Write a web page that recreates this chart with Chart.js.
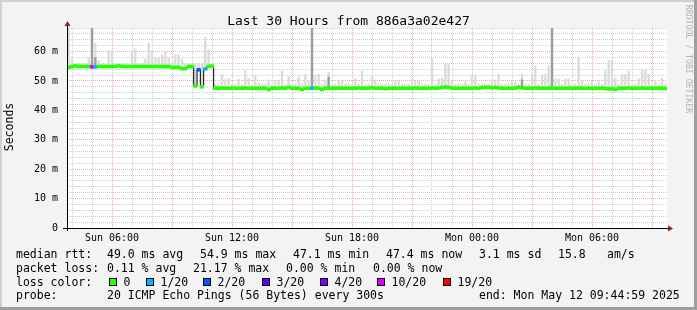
<!DOCTYPE html>
<html>
<head>
<meta charset="utf-8">
<script src="https://cdn.jsdelivr.net/npm/chart.js@4.4.1/dist/chart.umd.min.js"></script>
<style>
  html, body { margin: 0; padding: 0; background: #f3f3f3; }
</style>
</head>
<body>
<canvas id="chart" width="697" height="310"></canvas>
<script>
// Data (10 minute bins, Sun 03:45 -> Mon 09:45)
const days = ['Sun', 'Mon'];
const startMinute = 3 * 60 + 45;
const spanMinutes = 30 * 60;
const binMinutes = 10;

const median = [
  54.6, 54.9, 55.1, 54.9, 54.9, 54.9, 54.9, 54.8, 54.8, 54.9,
  54.9, 54.9, 54.9, 54.9, 54.9, 55.1, 54.9, 54.9, 54.9, 54.9,
  54.9, 54.9, 54.9, 54.9, 54.9, 54.9, 54.9, 54.9, 54.9, 54.9,
  54.9, 54.6, 54.6, 54.6, 54.2, 54.2, 54.9, 54.9, 48.3, 53.8,
  48.0, 54.1, 55.0, 55.0, 47.5, 47.5, 47.6, 47.5, 47.5, 47.6,
  47.5, 47.5, 47.5, 47.6, 47.5, 47.5, 47.5, 47.5, 47.5, 47.5,
  47.1, 47.5, 47.5, 47.5, 47.6, 47.5, 47.8, 47.5, 47.5, 47.5,
  47.1, 47.5, 47.5, 47.5, 47.6, 47.5, 47.1, 47.5, 47.6, 47.5,
  47.5, 47.6, 47.5, 47.5, 47.5, 47.5, 47.5, 47.6, 47.5, 47.5,
  47.6, 47.7, 47.5, 47.5, 47.5, 47.4, 47.5, 47.5, 47.5, 47.5,
  47.5, 47.5, 47.5, 47.5, 47.6, 47.5, 47.5, 47.5, 47.5, 47.6,
  47.5, 47.6, 47.8, 47.9, 47.8, 47.6, 47.5, 47.5, 47.5, 47.5,
  47.5, 47.5, 47.6, 47.5, 47.7, 47.8, 47.8, 47.7, 47.8, 47.6,
  47.5, 47.5, 47.5, 47.5, 47.6, 47.8, 47.7, 47.5, 47.5, 47.5,
  47.6, 47.5, 47.5, 47.5, 47.5, 47.6, 47.5, 47.5, 47.5, 47.5,
  47.5, 47.5, 47.5, 47.6, 47.5, 47.5, 47.5, 47.5, 47.5, 47.5,
  47.5, 47.4, 47.3, 47.3, 47.1, 47.5, 47.5, 47.5, 47.6, 47.5,
  47.5, 47.5, 47.6, 47.5, 47.5, 47.5, 47.5, 47.5, 47.5, 47.4
];

// highest ping of each bin (light smoke)
const smokeHigh = [
  68, 58, 56, 56, 56, 56, 58, 68, 63, 57,
  56, 56, 60.5, 60.5, 56, 56, 56, 56, 56, 60,
  61, 56, 56, 57.5, 63, 60.5, 58, 58, 59, 60,
  58, 56, 59, 59, 57.5, 56, 56, 56, 56, 56,
  56, 65, 60.7, 56, 49, 49, 52.4, 50.5, 50.9, 49,
  49, 50.7, 49, 53.5, 51, 49, 51.8, 49.5, 49, 49,
  50.5, 49, 50.2, 50.2, 53.5, 49, 51.5, 49, 49, 51.5,
  49, 52.4, 50, 68, 52, 52.4, 49, 50.5, 53, 49,
  49, 50.2, 50.2, 49, 49, 49, 50.8, 49, 53.5, 49,
  49, 51.3, 50.5, 49, 49, 49, 49, 49, 50, 50,
  49, 49, 49, 50.8, 50, 50, 49, 49, 49, 57.5,
  49, 50.8, 51, 55.8, 55.8, 49.8, 49, 49, 49, 49.8,
  49, 52, 52, 49, 49, 49, 49, 50.5, 50.5, 52.5,
  49, 49, 49, 49.8, 49.8, 49, 52.4, 49, 49, 52.4,
  55.2, 49, 52, 52.4, 55.2, 68, 50.8, 50.8, 49, 50.8,
  50.8, 49, 49, 58.2, 50, 49, 49, 49.8, 49, 49.8,
  49, 53.5, 57, 57, 51, 49, 52.4, 52.4, 53.5, 49,
  49, 50.8, 54, 54, 52.4, 49, 49.8, 49, 51, 49
];

// bins where many pings were high (dark smoke): [bin, top]
const darkSmoke = [[7, 68], [8, 58], [73, 68], [78, 51.5], [136, 50.5], [145, 68]];

// lost pings out of 20: [bin, count]
const lossBins = [[7, 10], [8, 1], [39, 2], [41, 1], [73, 1]];

const lossLabels = ['0', '1/20', '2/20', '3/20', '4/20', '10/20', '19/20'];
const lossColors = ['#26ff00', '#00b8ff', '#0059ff', '#5e00ff', '#7e00ff', '#dd00ff', '#ff0000'];

const xTickLabels = ['Sun 06:00', 'Sun 12:00', 'Sun 18:00', 'Mon 00:00', 'Mon 06:00'];
const yTickLabels = ['0', '10 m', '20 m', '30 m', '40 m', '50 m', '60 m'];

const titleText = 'Last 30 Hours from 886a3a02e427';
const rttStats = ['49.0 ms avg', '54.9 ms max', '47.1 ms min', '47.4 ms now', '3.1 ms sd', '15.8', 'am/s'];
const lossStats = ['0.11 % avg', '21.17 % max', '0.00 % min', '0.00 % now'];
const probeText = '20 ICMP Echo Pings (56 Bytes) every 300s';
const endText = 'end: Mon May 12 09:44:59 2025';

// helpers
const binX = i => i * binMinutes + binMinutes / 2;
const toMinutes = label => {
  const [d, hm] = label.split(' ');
  const [h, m] = hm.split(':').map(Number);
  return days.indexOf(d) * 1440 + h * 60 + m - startMinute;
};
const xTickMinutes = xTickLabels.map(toMinutes);
const hourTicks = [];
for (let t = 60 - (startMinute % 60); t <= spanMinutes; t += 60) hourTicks.push(t);
const yTicks = [];
for (let v = 0; v <= 68; v += 2) yTicks.push(v);

const lossThresholds = lossLabels.map(l => Number(l.split('/')[0]));
const lossColor = n => {
  let c = lossColors[0];
  lossThresholds.forEach((t, k) => { if (n >= t) c = lossColors[k]; });
  return c;
};
const lossAt = i => { const e = lossBins.find(b => b[0] === i); return e ? e[1] : 0; };

const half = 0.5; // half thickness of the median line, in ms
const mono = px => `${px}px "DejaVu Sans Mono"`;

const framePlugin = {
  id: 'frame',
  beforeDraw(chart) {
    const { ctx, chartArea: a, width, height } = chart;
    ctx.save();
    ctx.fillStyle = '#f3f3f3';
    ctx.fillRect(0, 0, width, height);
    ctx.fillStyle = '#d0d0d0';
    ctx.fillRect(0, 0, width, 2);
    ctx.fillRect(0, 0, 2, height);
    ctx.fillStyle = '#9e9e9e';
    ctx.fillRect(width - 3, 0, 3, height);
    ctx.fillRect(0, height - 3, width, 3);
    ctx.fillStyle = '#ffffff';
    ctx.fillRect(a.left, a.top, a.right - a.left, a.bottom - a.top);
    ctx.restore();
  },
  afterDraw(chart) {
    const { ctx, chartArea: a } = chart;
    ctx.save();
    // axes with arrows
    ctx.strokeStyle = '#000';
    ctx.lineWidth = 1;
    ctx.beginPath();
    ctx.moveTo(a.left - 4, a.bottom + 0.5);
    ctx.lineTo(a.right + 2, a.bottom + 0.5);
    ctx.moveTo(a.left + 0.5, a.bottom + 3);
    ctx.lineTo(a.left + 0.5, a.top - 2);
    ctx.stroke();
    ctx.fillStyle = '#9b1c1c';
    ctx.beginPath();
    ctx.moveTo(a.right + 1, a.bottom - 2.5);
    ctx.lineTo(a.right + 6, a.bottom + 0.5);
    ctx.lineTo(a.right + 1, a.bottom + 3.5);
    ctx.fill();
    ctx.beginPath();
    ctx.moveTo(a.left - 2.5, a.top - 2);
    ctx.lineTo(a.left + 0.5, a.top - 7);
    ctx.lineTo(a.left + 3.5, a.top - 2);
    ctx.fill();

    // title and axis texts
    ctx.fillStyle = '#000';
    ctx.font = mono(13);
    ctx.textAlign = 'center';
    ctx.fillText(titleText, 348.5, 24.5);

    ctx.save();
    ctx.translate(10.5, 127);
    ctx.rotate(-Math.PI / 2);
    ctx.font = mono(11.5);
    ctx.textBaseline = 'middle';
    ctx.fillText('Seconds', 0, 0);
    ctx.restore();

    ctx.save();
    ctx.translate(688, 59);
    ctx.rotate(Math.PI / 2);
    ctx.font = mono(8.2);
    ctx.fillStyle = '#b4b4b4';
    ctx.textBaseline = 'middle';
    ctx.fillText('RRDTOOL / TOBI OETIKER', 0, 0);
    ctx.restore();

    // legend block
    ctx.textAlign = 'left';
    ctx.font = mono(11.5);
    const row1 = ['median rtt:', ...rttStats];
    [16, 107, 200, 293, 386, 479, 558, 607].forEach((x, k) => ctx.fillText(row1[k], x, 257.5));
    const row2 = ['packet loss:', ...lossStats];
    [16, 107, 193, 286, 373].forEach((x, k) => ctx.fillText(row2[k], x, 271.5));
    ctx.fillText('loss color:', 16, 285.5);
    [109, 146, 203, 262, 320, 377, 443].forEach((x, k) => {
      ctx.fillStyle = lossColors[k];
      ctx.fillRect(x, 278, 8, 8);
      ctx.strokeStyle = '#000';
      ctx.strokeRect(x + 0.5, 278.5, 7, 7);
      ctx.fillStyle = '#000';
      ctx.fillText(lossLabels[k], x + 14.5, 285.5);
    });
    ctx.fillText('probe:', 16, 299.3);
    ctx.fillText(probeText, 107, 299.3);
    ctx.fillText(endText, 479, 299.3);
    ctx.restore();
  }
};

const hourOf = v => Math.floor(((startMinute + v) % 1440) / 60);

new Chart(document.getElementById('chart'), {
  type: 'bar',
  data: {
    datasets: [
      {
        label: 'smoke',
        data: smokeHigh.map((v, i) => ({ x: binX(i), y: [median[i] - half, v] })),
        backgroundColor: '#dadada',
        barPercentage: 0.7,
        order: 4
      },
      {
        label: 'dark smoke',
        data: darkSmoke.map(([i, v]) => ({ x: binX(i), y: [median[i] - half, v] })),
        backgroundColor: '#9c9c9c',
        barPercentage: 0.7,
        order: 3
      },
      {
        type: 'line',
        label: 'median steps',
        data: median.map((v, i) => ({ x: binX(i), y: v })),
        stepped: 'middle',
        borderColor: '#000',
        borderWidth: 1,
        pointRadius: 0,
        order: 2
      },
      {
        label: 'median rtt',
        data: median.map((v, i) => ({ x: binX(i), y: [v - half, v + half] })),
        backgroundColor: median.map((v, i) => lossColor(lossAt(i))),
        order: 1
      }
    ]
  },
  options: {
    responsive: false,
    animation: false,
    events: [],
    datasets: {
      bar: { grouped: false, barPercentage: 1, categoryPercentage: 1, borderWidth: 0 }
    },
    layout: { padding: { left: 0, right: 30, top: 28, bottom: 0 } },
    plugins: { legend: { display: false }, tooltip: { enabled: false }, title: { display: false } },
    scales: {
      x: {
        type: 'linear',
        min: 0,
        max: spanMinutes,
        offset: false,
        afterBuildTicks: s => { s.ticks = hourTicks.map(v => ({ value: v })); },
        afterFit: s => { s.height = 82; },
        ticks: {
          autoSkip: false,
          maxRotation: 0,
          padding: 4,
          color: '#000',
          font: { family: 'DejaVu Sans Mono', size: 10 },
          callback: v => {
            const k = xTickMinutes.indexOf(v);
            return k >= 0 ? xTickLabels[k] : '';
          }
        },
        grid: {
          offset: false,
          drawTicks: false,
          lineWidth: 1,
          color: c => (hourOf(c.tick.value) % 3 === 0 ? '#eeaaaa' : '#cfcfcf')
        },
        border: { display: false, dash: [1, 1] }
      },
      y: {
        type: 'linear',
        min: 0,
        max: 68,
        afterBuildTicks: s => { s.ticks = yTicks.map(v => ({ value: v })); },
        afterFit: s => { s.width = 67; },
        ticks: {
          autoSkip: false,
          padding: 9,
          color: '#000',
          font: { family: 'DejaVu Sans Mono', size: 10 },
          callback: v => (v % 10 === 0 ? yTickLabels[v / 10] : '')
        },
        grid: {
          drawTicks: false,
          lineWidth: 1,
          color: c => (c.tick.value % 10 === 0 ? '#eeaaaa' : '#cfcfcf')
        },
        border: { display: false, dash: [1, 1] }
      }
    }
  },
  plugins: [framePlugin]
});
</script>
</body>
</html>
